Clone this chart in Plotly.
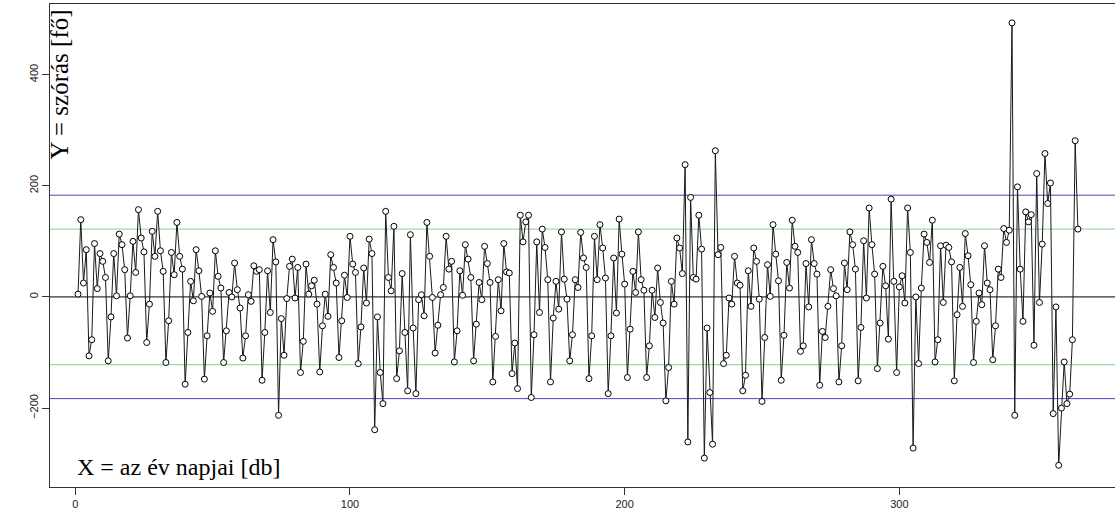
import plotly.graph_objects as go

# Daily deviation values (day of year -> deviation in persons)
days = list(range(1, 366))
deviation = [
    5, 139, 25, 85, -106, -77, 96, 15, 78, 64,
    35, -115, -36, 78, 2, 113, 94, 49, -74, 2,
    100, 44, 157, 106, 81, -82, -13, 118, 73, 154,
    83, 46, -118, -43, 80, 40, 134, 73, 50, -157,
    -64, 28, -7, 85, 47, 1, -148, -70, 7, -26,
    83, 37, 16, -118, -61, 8, 0, 61, 13, -20,
    -110, -70, 4, -8, 56, 46, 49, -150, -64, 47,
    -28, 103, 63, -213, -39, -105, -3, 55, 68, -2,
    53, -136, -80, 59, 5, 20, 30, -13, -135, -52,
    5, -35, 76, 53, 25, -109, -43, 39, -1, 109,
    59, 44, -120, -54, 52, -11, 104, 78, -239, -36,
    -136, -192, 154, 35, 11, 127, -147, -97, 42, -64,
    -169, 112, -56, -174, -5, 4, -34, 134, 73, -1,
    -101, -51, 4, 17, 109, 50, 64, -117, -61, 47,
    3, 94, 68, 35, -115, -49, 26, -5, 91, 60,
    26, -153, -71, 31, -25, 96, 45, 43, -138, -83,
    -165, 147, 99, 135, 147, -181, -68, 99, -28, 122,
    89, 31, -153, -38, 28, -22, 117, 32, -4, -115,
    -68, 31, 17, 116, 70, 53, -147, -70, 109, 31,
    130, 88, 34, -174, -70, 70, -29, 140, 77, 23,
    -145, -58, 46, 8, 117, 31, 12, -145, -88, 12,
    -37, 52, -10, -47, -187, -127, 28, -13, 106, 88,
    42, 238, -261, 179, 35, 32, 147, 86, -290, -56,
    -172, -265, 263, 76, 89, -120, -105, -2, -13, 73,
    25, 21, -169, -141, 47, -17, 88, 64, -4, -188,
    -73, 58, 1, 130, 77, 29, -150, -69, 62, 16,
    138, 91, 80, -98, -88, 60, -18, 103, 60, 41,
    -159, -62, -73, -17, 49, 15, 2, -153, -88, 61,
    13, 117, 94, 50, -151, -55, 101, -2, 160, 94,
    41, -129, -47, 55, 20, -76, 176, 28, -136, 18,
    38, -11, 160, 80, -272, 0, -120, 16, 113, 98,
    62, 138, -117, -77, 92, -10, 93, 89, 63, -151,
    -32, 53, -17, 114, 74, 22, -118, -44, 7, -14,
    92, 25, 13, -113, -52, 50, 35, 123, 98, 120,
    493, -213, 198, 50, -44, 153, 135, 148, -87, 222,
    -10, 95, 258, 168, 205, -210, -18, -303, -200, -117,
    -192, -175, -77, 281, 122,
]

# Reference levels: one standard deviation and 1.5 standard deviations
sd_level = 122
wide_level = 183

x_ticks = [0, 100, 200, 300]
y_ticks = [-200, 0, 200, 400]

x_title = "X = az év napjai [db]"
y_title = "Y = szórás [fő]"

x_lo, x_hi = -9.2, 378.5
y_lo, y_hi = -342, 527

fig = go.Figure()

# Horizontal reference lines
for lvl, col in [(0, "black"), (sd_level, "#8ccf8c"), (-sd_level, "#8ccf8c"),
                 (wide_level, "#4646c0"), (-wide_level, "#4646c0")]:
    fig.add_shape(type="line", x0=x_lo, x1=x_hi, y0=lvl, y1=lvl,
                  xref="x", yref="y", line=dict(color=col, width=1), layer="below")

fig.add_trace(go.Scatter(
    x=days, y=deviation, mode="lines+markers",
    line=dict(color="#1a1a1a", width=1),
    marker=dict(symbol="circle", size=6, color="white",
                line=dict(color="black", width=1)),
    showlegend=False, hoverinfo="skip",
))

fig.add_annotation(x=-5.8, y=383, xref="x", yref="y", text=y_title,
                   textangle=-90, showarrow=False,
                   font=dict(family="Liberation Serif", size=25, color="black"))
fig.add_annotation(x=37.5, y=-306, xref="x", yref="y", text=x_title,
                   showarrow=False,
                   font=dict(family="Liberation Serif", size=24, color="black"))

fig.update_layout(
    width=1115, height=512,
    margin=dict(l=50, r=0, t=4, b=25),
    paper_bgcolor="white", plot_bgcolor="white",
    font=dict(family="Liberation Sans", size=11, color="#222222"),
)
fig.update_xaxes(range=[x_lo, x_hi], tickvals=x_ticks, ticks="outside",
                 ticklen=7, tickcolor="#333", showgrid=False, zeroline=False,
                 showline=True, linecolor="#333", linewidth=1, mirror=True)
fig.update_yaxes(range=[y_lo, y_hi], tickvals=y_ticks, ticks="outside",
                 ticklen=7, tickcolor="#333", tickangle=-90, showgrid=False,
                 zeroline=False, showline=True, linecolor="#333", linewidth=1)

fig.write_html("out.html")
